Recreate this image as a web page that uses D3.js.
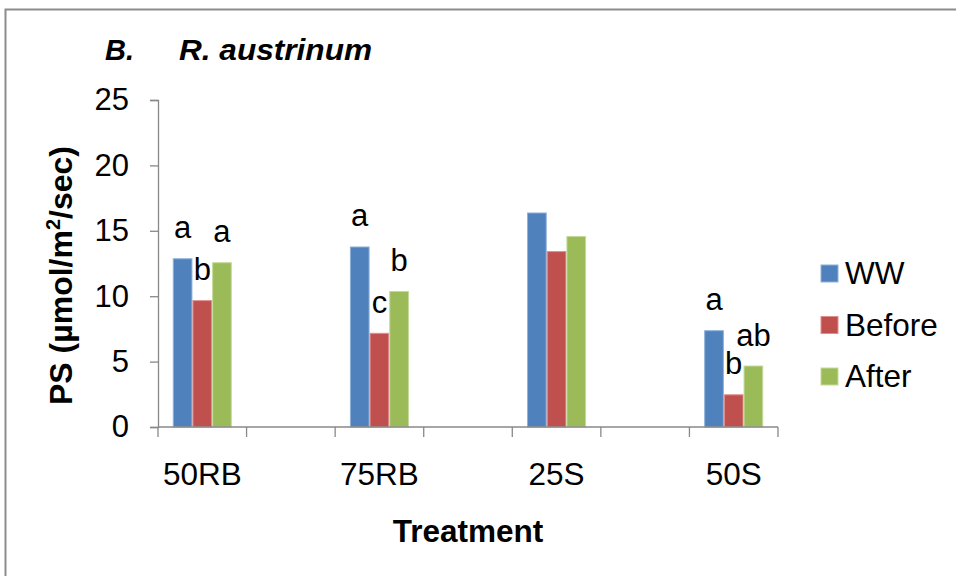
<!DOCTYPE html>
<html>
<head>
<meta charset="utf-8">
<script src="https://cdn.jsdelivr.net/npm/d3@7"></script>
<style>
  html, body { margin: 0; padding: 0; background: #fff; }
  svg { display: block; font-family: "Liberation Sans", Arial, sans-serif; }
</style>
</head>
<body>
<svg id="chart" width="956" height="576"></svg>
<script>
// axis slots: the category axis has blank slots between the treatments
const axisSlots = ["50RB", "gap1", "75RB", "gap2", "25S", "gap3", "50S"];
const categories = ["50RB", "75RB", "25S", "50S"];
const seriesNames = ["WW", "Before", "After"];
const seriesColors = ["#4F81BD", "#C0504D", "#9BBB59"];
const seriesStroke = ["#8FB0DA", "#DD8F8D", "#C4DA9C"];
const wwValues = [12.9, 13.8, 16.4, 7.4];
const beforeValues = [9.7, 7.2, 13.45, 2.5];
const afterValues = [12.6, 10.4, 14.6, 4.7];
const wwLetters = ["a", "a", "", "a"];
const beforeLetters = ["b", "c", "", "b"];
const afterLetters = ["a", "b", "", "ab"];
const yTicks = [0, 5, 10, 15, 20, 25];

(function () {
const seriesValues = [wwValues, beforeValues, afterValues];
const seriesLetters = [wwLetters, beforeLetters, afterLetters];

const svg = d3.select("#chart");

// frame
svg.append("path")
  .attr("d", "M5.5,576 L5.5,9.5 L956,9.5")
  .attr("fill", "none").attr("stroke", "#8c8c8c").attr("stroke-width", 2);

const pLeft = 158, pRight = 778, pTop = 100, pBottom = 427;

const x0 = d3.scaleBand().domain(axisSlots).range([pLeft, pRight]).padding(0);
const x1 = d3.scaleBand().domain(seriesNames).range([0, x0.bandwidth()])
  .paddingInner(0).paddingOuter(0.75);
const y = d3.scaleLinear().domain([0, 25]).range([pBottom, pTop]);

// y axis
const yAxis = d3.axisLeft(y).tickValues(yTicks).tickSize(8).tickPadding(21);
const gy = svg.append("g").attr("transform", `translate(${pLeft},0)`).call(yAxis);
gy.select(".domain").attr("stroke", "#888").attr("stroke-width", 1.3);
gy.selectAll(".tick line").attr("stroke", "#888").attr("stroke-width", 1.3);
gy.selectAll(".tick text").attr("font-size", 31).attr("fill", "#000")
  .attr("font-family", "'Liberation Sans', Arial, sans-serif");

// bars
categories.forEach((c, ci) => {
  seriesNames.forEach((s, si) => {
    const v = seriesValues[si][ci];
    const bx = x0(c) + x1(s);
    svg.append("rect")
      .attr("x", bx + 0.5).attr("y", y(v) + 0.5)
      .attr("width", x1.bandwidth() - 1).attr("height", y(0) - y(v) - 0.5)
      .attr("fill", seriesColors[si])
      .attr("stroke", seriesStroke[si]).attr("stroke-width", 1);
  });
});

// x axis
const gx = svg.append("g").attr("transform", `translate(0,${pBottom})`);
gx.append("line").attr("x1", pLeft).attr("x2", pRight).attr("y1", 0).attr("y2", 0)
  .attr("stroke", "#888").attr("stroke-width", 1.3);
const boundaries = axisSlots.map(c => x0(c)).concat([x0(axisSlots[axisSlots.length - 1]) + x0.bandwidth()]);
gx.selectAll("line.tk").data(boundaries).enter().append("line")
  .attr("class", "tk")
  .attr("x1", d => d).attr("x2", d => d).attr("y1", 0).attr("y2", 10)
  .attr("stroke", "#888").attr("stroke-width", 1.3);
gx.selectAll("text.cat").data(categories).enter().append("text")
  .attr("class", "cat")
  .attr("x", d => x0(d) + x0.bandwidth() / 2)
  .attr("y", 58)
  .attr("text-anchor", "middle")
  .attr("font-size", 31.5).attr("fill", "#000")
  .text(d => d);

// significance letters
categories.forEach((c, ci) => {
  seriesNames.forEach((s, si) => {
    const t = seriesLetters[si][ci];
    if (!t) return;
    const v = seriesValues[si][ci];
    svg.append("text")
      .attr("x", x0(c) + x1(s) + x1.bandwidth() / 2)
      .attr("y", y(v) - 20)
      .attr("text-anchor", "middle")
      .attr("font-size", 31).attr("fill", "#000")
      .text(t);
  });
});

// title
svg.append("text").attr("x", 105).attr("y", 60)
  .attr("font-size", 29).attr("font-style", "italic").attr("font-weight", "bold")
  .text("B.");
svg.append("text").attr("x", 179).attr("y", 60)
  .attr("font-size", 29).attr("font-style", "italic").attr("font-weight", "bold")
  .attr("textLength", 193).attr("lengthAdjust", "spacingAndGlyphs")
  .text("R. austrinum");

// y axis title
const yt = svg.append("text")
  .attr("transform", `translate(72,${(pTop + pBottom) / 2 + 12}) rotate(-90)`)
  .attr("text-anchor", "middle")
  .attr("font-size", 32).attr("font-weight", "bold").attr("fill", "#000");
yt.append("tspan").text("PS (\u00B5mol/m");
yt.append("tspan").attr("font-size", 20).attr("dy", -12).text("2");
yt.append("tspan").attr("dy", 12).text("/sec)");

// x axis title
svg.append("text").attr("x", (pLeft + pRight) / 2).attr("y", 542)
  .attr("text-anchor", "middle")
  .attr("font-size", 31.5).attr("font-weight", "bold").attr("fill", "#000")
  .text("Treatment");

// legend
const legend = svg.append("g").attr("transform", "translate(821,265)");
seriesNames.forEach((s, i) => {
  const g = legend.append("g").attr("transform", `translate(0,${i * 51.5})`);
  g.append("rect").attr("x", 0).attr("y", 0).attr("width", 17).attr("height", 17)
    .attr("fill", seriesColors[i]).attr("stroke", seriesStroke[i]).attr("stroke-width", 1);
  g.append("text").attr("x", 24).attr("y", 19)
    .attr("font-size", 31.5).attr("fill", "#000").text(s);
});
})();
</script>
</body>
</html>
